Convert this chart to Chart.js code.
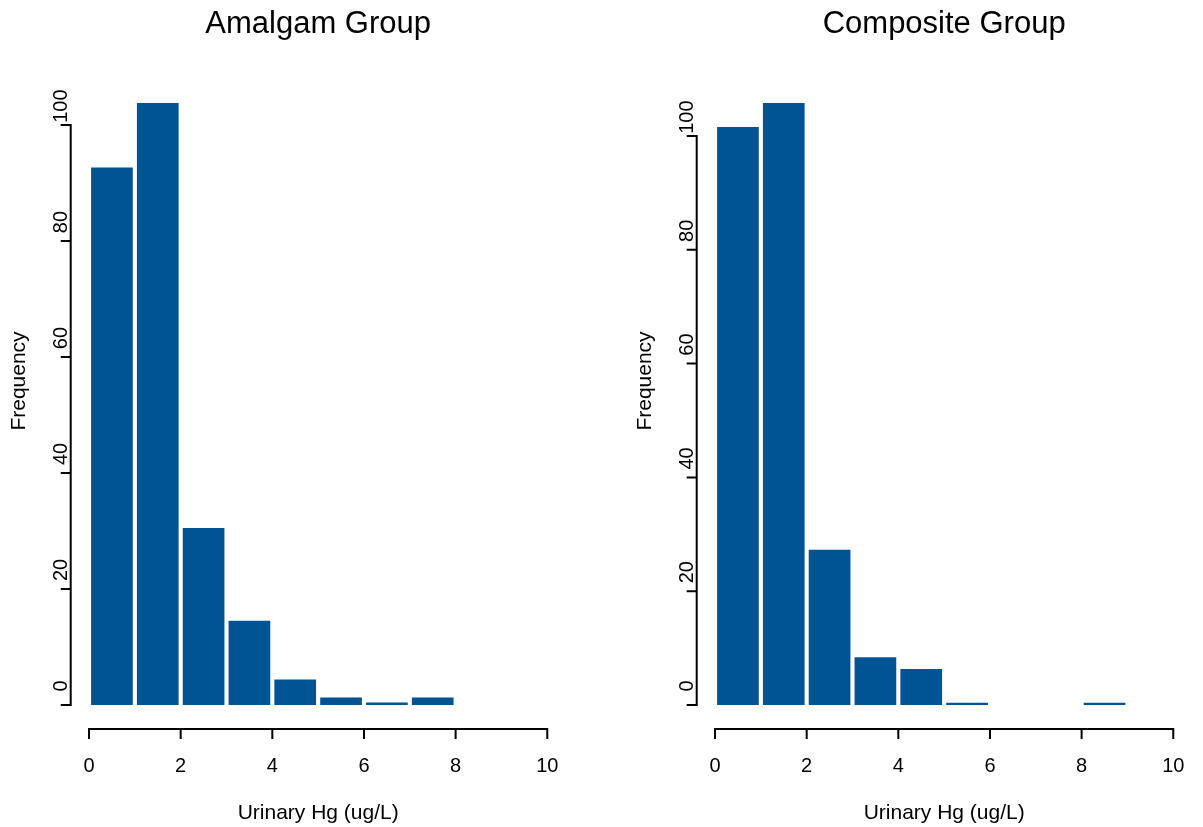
<!DOCTYPE html>
<html>
<head>
<meta charset="utf-8">
<script src="https://cdn.jsdelivr.net/npm/chart.js@4.4.1/dist/chart.umd.min.js"></script>
<style>
  html, body { margin: 0; padding: 0; background: #fff; }
  .panel { position: absolute; top: 0; width: 577px; height: 827px; }
  #left { left: 0; }
  #right { left: 626px; }
</style>
</head>
<body>
<div class="panel" id="left"><canvas id="amalgam"></canvas></div>
<div class="panel" id="right"><canvas id="composite"></canvas></div>
<script>
// histogram bins and counts
const BREAKS = [0, 1, 2, 3, 4, 5, 6, 7, 8, 9, 10];
const AMALGAM = [92.7, 103.8, 30.5, 14.5, 4.4, 1.3, 0.4, 1.3, 0, 0];
const COMPOSITE = [101.6, 105.8, 27.3, 8.4, 6.3, 0.4, 0, 0, 0.4, 0];
const X_TICKS = [0, 2, 4, 6, 8, 10];
const Y_TICKS = [0, 20, 40, 60, 80, 100];
const X_TITLE = 'Urinary Hg (ug/L)';
const Y_TITLE = 'Frequency';

const BAR_COLOR = 'rgb(0, 84, 148)';
const FONT = '"Liberation Sans", Arial, Helvetica, sans-serif';

// R style axes: line only spans first..last tick, labels parallel to axis
const rAxes = {
  id: 'rAxes',
  afterDraw(chart, args, opts) {
    const ctx = chart.ctx, xs = chart.scales.x, ys = chart.scales.y, area = chart.chartArea;
    ctx.save();
    ctx.strokeStyle = '#000';
    ctx.fillStyle = '#000';
    ctx.lineWidth = 2;

    // x axis
    const ax = area.bottom;
    ctx.beginPath();
    ctx.moveTo(xs.getPixelForValue(X_TICKS[0]), ax);
    ctx.lineTo(xs.getPixelForValue(X_TICKS[X_TICKS.length - 1]), ax);
    X_TICKS.forEach(v => {
      const px = xs.getPixelForValue(v);
      ctx.moveTo(px, ax - 1);
      ctx.lineTo(px, ax + 10);
    });
    // y axis
    const ay = area.left;
    ctx.moveTo(ay, ys.getPixelForValue(Y_TICKS[0]));
    ctx.lineTo(ay, ys.getPixelForValue(Y_TICKS[Y_TICKS.length - 1]));
    Y_TICKS.forEach(v => {
      const py = ys.getPixelForValue(v);
      ctx.moveTo(ay + 1, py);
      ctx.lineTo(ay - 10, py);
    });
    ctx.stroke();

    ctx.textAlign = 'center';
    ctx.textBaseline = 'alphabetic';
    ctx.font = '20px ' + FONT;
    X_TICKS.forEach(v => ctx.fillText(String(v), xs.getPixelForValue(v), ax + 43));
    Y_TICKS.forEach(v => {
      ctx.save();
      ctx.translate(ay - 4, ys.getPixelForValue(v) - 19);
      ctx.rotate(-Math.PI / 2);
      ctx.fillText(String(v), 0, 0);
      ctx.restore();
    });

    const cx = (area.left + area.right) / 2;
    ctx.font = '21px ' + FONT;
    ctx.fillText(X_TITLE, cx, 819);
    ctx.save();
    ctx.translate(25, 381);
    ctx.rotate(-Math.PI / 2);
    ctx.fillText(Y_TITLE, 0, 0);
    ctx.restore();

    ctx.font = '31px ' + FONT;
    ctx.fillText(opts.title, cx, 33);
    ctx.restore();
  }
};

function histChart(id, title, counts) {
  const mids = counts.map((c, i) => ({ x: (BREAKS[i] + BREAKS[i + 1]) / 2, y: c }));
  const top = Math.max(...counts);
  return new Chart(document.getElementById(id), {
    type: 'bar',
    data: {
      datasets: [{
        data: mids,
        backgroundColor: BAR_COLOR,
        borderWidth: 0,
        barPercentage: 0.91,
        categoryPercentage: 1
      }]
    },
    options: {
      responsive: true,
      maintainAspectRatio: false,
      animation: false,
      layout: { padding: { left: 70.7, right: 11.4, top: 79, bottom: 98 } },
      plugins: { legend: { display: false }, tooltip: { enabled: false }, rAxes: { title: title } },
      scales: {
        x: { type: 'linear', display: false, offset: false, grid: { offset: false },
             min: BREAKS[0] - 0.04 * (BREAKS[BREAKS.length - 1] - BREAKS[0]),
             max: BREAKS[BREAKS.length - 1] + 0.04 * (BREAKS[BREAKS.length - 1] - BREAKS[0]) },
        y: { type: 'linear', display: false, min: -0.04 * top, max: top * 1.04 }
      }
    },
    plugins: [rAxes]
  });
}

histChart('amalgam', 'Amalgam Group', AMALGAM);
histChart('composite', 'Composite Group', COMPOSITE);
</script>
</body>
</html>
